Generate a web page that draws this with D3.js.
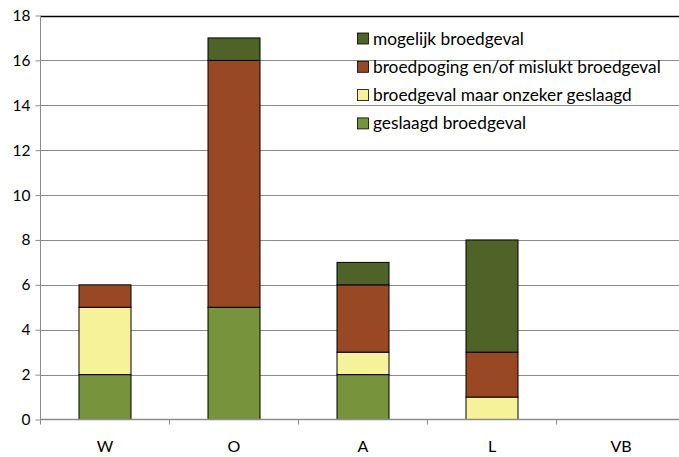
<!DOCTYPE html>
<html><head><meta charset="utf-8">
<script src="https://cdn.jsdelivr.net/npm/d3@7"></script>
<style>body{margin:0;background:#fff}svg{display:block}text{font-family:Lato,"Open Sans",sans-serif}</style>
</head><body>
<script>
const categories = ["W","O","A","L","VB"];
const geslaagd = [2,5,2,0,0];
const onzeker = [3,0,1,1,0];
const mislukt = [1,11,3,2,0];
const mogelijk = [0,1,1,5,0];
const seriesNames = ["geslaagd broedgeval","broedgeval maar onzeker geslaagd","broedpoging en/of mislukt broedgeval","mogelijk broedgeval"];
const colors = ["#77933C","#F6F29A","#984822","#4F6228"];
const yTicks = [0,2,4,6,8,10,12,14,16,18];

const W=679,H=457;
const svg=d3.select("body").append("svg").attr("width",W).attr("height",H);
const x=d3.scaleBand().domain(categories).range([40.5,685.5]).padding(0);
const y=d3.scaleLinear().domain([0,18]).range([419.5,15.5]);

const rows=categories.map((c,i)=>({cat:c,s0:geslaagd[i],s1:onzeker[i],s2:mislukt[i],s3:mogelijk[i]}));
const stack=d3.stack().keys(["s0","s1","s2","s3"])(rows);

// gridlines
svg.append("g").selectAll("line").data(yTicks.filter(t=>t>0)).join("line")
 .attr("x1",40.5).attr("x2",W).attr("y1",d=>Math.round(y(d))+0.5).attr("y2",d=>Math.round(y(d))+0.5)
 .attr("stroke",d=>d===18?"#000":"#8c8c8c").attr("stroke-width",d=>d===18?1.3:1);

// y axis
const ya=svg.append("g").attr("transform","translate(40.5,0)").call(d3.axisLeft(y).tickValues(yTicks).tickSize(5).tickPadding(5).tickFormat(d3.format("d")));
ya.select(".domain").attr("stroke","#8c8c8c").attr("d","M0,"+y(18)+"V"+(y(0)+4));
ya.selectAll(".tick line").attr("stroke","#8c8c8c");
ya.selectAll("text").attr("font-size",15.5).attr("fill","#000").style("font-family","Lato,sans-serif");

// bars
const bw=52;
svg.append("g").selectAll("g").data(stack).join("g").attr("fill",(d,i)=>colors[i])
 .selectAll("rect").data(d=>d.filter(p=>p[1]>p[0])).join("rect")
 .attr("x",d=>x(d.data.cat)+x.bandwidth()/2-bw/2).attr("width",bw)
 .attr("y",d=>y(d[1])).attr("height",d=>y(d[0])-y(d[1]))
 .attr("stroke","#000").attr("stroke-width",1);

// x axis
const xa=svg.append("g").attr("transform","translate(0,"+y(0)+")");
xa.append("line").attr("x1",40.5).attr("x2",W).attr("stroke","#8c8c8c").attr("stroke-width",1.5);
xa.selectAll("line.t").data(categories).join("line").attr("class","t")
 .attr("x1",d=>x(d)).attr("x2",d=>x(d)).attr("y1",0).attr("y2",5).attr("stroke","#8c8c8c");
xa.selectAll("text").data(categories).join("text")
 .attr("x",d=>x(d)+x.bandwidth()/2).attr("y",32).attr("text-anchor","middle").attr("font-size",16).text(d=>d);

// legend
const leg=svg.append("g").attr("transform","translate(357,0)");
const order=[3,2,1,0];
order.forEach((si,k)=>{
  const cy=38+k*28.3;
  leg.append("rect").attr("x",0.5).attr("y",cy-5).attr("width",11).attr("height",11).attr("fill",colors[si]).attr("stroke","#000").attr("stroke-width",0.8);
  leg.append("text").attr("x",16).attr("y",cy+6.5).attr("font-size",17.3).text(seriesNames[si]);
});
</script>
</body></html>
